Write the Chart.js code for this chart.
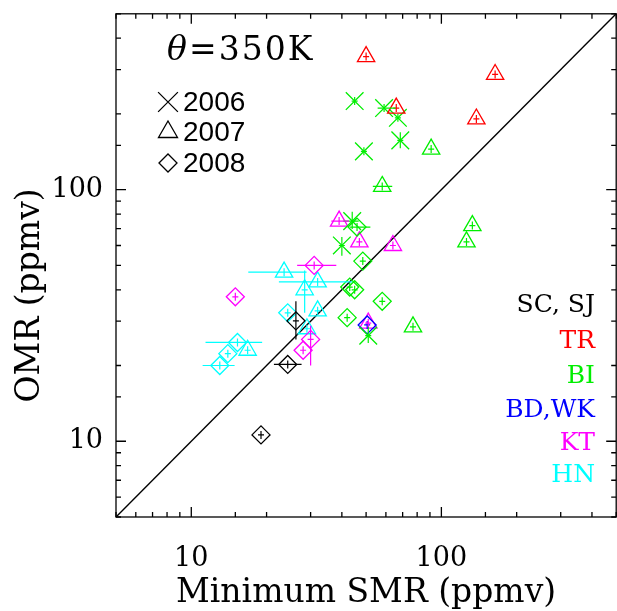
<!DOCTYPE html>
<html>
<head>
<meta charset="utf-8">
<script src="https://cdn.jsdelivr.net/npm/chart.js@4"></script>
<style>
  html, body { margin: 0; padding: 0; background: #fff; overflow: hidden; }
  canvas { display: block; }
</style>
</head>
<body>
<canvas id="chart" width="630" height="611"></canvas>
<script>
// each row: [year, minimum SMR, OMR, xLow, xHigh, yLow, yHigh] (null = bar hidden inside marker)
const sites = ['SC, SJ', 'TR', 'BI', 'BD,WK', 'KT', 'HN'];
const siteColors = ['#000000', '#ff0000', '#00ee00', '#0000ff', '#ff00ff', '#00ffff'];
const years = [2006, 2007, 2008];
const yearStyles = ['crossRot', 'triangle', 'rectRot'];
const yearRadius = [12.5, 10, 9];

const scsj = [
  [2008, 26.2, 30.1, null, null, 25.4, 36.0],
  [2008, 24.3, 20.2, 21.4, 27.6, null, null],
  [2008, 19.0, 10.6, null, null, null, null]
];
const tr = [
  [2007, 50, 338, null, null, null, null],
  [2007, 164, 287, null, null, null, null],
  [2007, 66, 211, null, null, null, null],
  [2007, 138, 191, null, null, null, null]
];
const bi = [
  [2006, 45, 225, null, null, null, null],
  [2006, 59, 211, 55.6, 65.7, null, null],
  [2006, 67, 193, null, null, null, null],
  [2006, 68.5, 157, null, null, 146, 169],
  [2006, 49, 142, null, null, null, null],
  [2006, 44, 75, 40.5, 46.7, 69.8, 81.7],
  [2006, 40, 60, null, null, 54.6, 64.8],
  [2006, 51, 26.3, null, null, 24.6, 28.7],
  [2007, 91, 145, null, null, null, null],
  [2007, 58, 103, 53.2, 63.6, null, null],
  [2007, 133, 72, null, null, null, null],
  [2007, 126, 62, null, null, null, null],
  [2007, 77, 28.5, null, null, null, null],
  [2008, 48.5, 52, null, null, null, null],
  [2008, 43, 41, null, null, null, null],
  [2008, 45, 40, null, null, null, null],
  [2008, 58, 36, null, null, null, null],
  [2008, 42, 31, null, null, null, null],
  [2008, 46, 71, 43, 52, null, null]
];
const bdwk = [
  [2008, 50.5, 29, null, null, null, null]
];
const kt = [
  [2007, 64, 60, null, null, null, null],
  [2007, 47, 62, null, null, null, null],
  [2007, 39, 75, 36.3, 42.7, null, null],
  [2007, 51, 29.5, null, null, null, null],
  [2008, 15, 37.5, null, null, null, null],
  [2008, 31, 50, 26.5, 38, null, null],
  [2008, 30, 25.4, null, null, 20, 28.8],
  [2008, 28, 23, null, null, null, null]
];
const hn = [
  [2007, 23.5, 47, 16.9, 28.9, null, null],
  [2007, 28.4, 40, null, null, 32.4, 47.7],
  [2007, 32, 43, 22.4, 44, null, null],
  [2007, 32, 33, null, null, null, null],
  [2007, 29, 28, null, null, null, null],
  [2007, 16.8, 23, null, null, null, null],
  [2008, 24.3, 32.4, null, null, null, null],
  [2008, 15.3, 24.7, 11.4, 19.2, null, null],
  [2008, 14, 22.3, null, null, null, null],
  [2008, 13, 20, 11.1, 14.9, null, null]
];
const siteRows = [scsj, tr, bi, bdwk, kt, hn];

const axisMin = 5;
const axisMax = 500;
const majorTicks = [10, 100];
const oneToOne = [5, 500];

const datasets = [{
  type: 'line',
  data: oneToOne.map(v => ({ x: v, y: v })),
  borderColor: '#000',
  borderWidth: 1.4,
  pointRadius: 0,
  order: 10
}];

siteRows.forEach((rows, s) => {
  years.forEach((yr, k) => {
    const pts = rows.filter(r => r[0] === yr).map(r => ({
      x: r[1], y: r[2], xlo: r[3], xhi: r[4], ylo: r[5], yhi: r[6]
    }));
    if (!pts.length) return;
    datasets.push({
      type: 'scatter',
      label: sites[s] + ' ' + yr,
      data: pts,
      pointStyle: yearStyles[k],
      pointRadius: yearRadius[k],
      pointHoverRadius: yearRadius[k],
      borderColor: siteColors[s],
      backgroundColor: 'rgba(0,0,0,0)',
      pointBorderWidth: 1.3,
      bars: true
    });
  });
});

const errorBars = {
  id: 'errorBars',
  afterDatasetsDraw(chart) {
    const { ctx, scales: { x, y } } = chart;
    ctx.save();
    ctx.lineWidth = 1.2;
    chart.data.datasets.forEach(ds => {
      if (!ds.bars) return;
      ctx.strokeStyle = ds.borderColor;
      ds.data.forEach(p => {
        const px = x.getPixelForValue(p.x);
        const py = y.getPixelForValue(p.y);
        const x0 = p.xlo ? x.getPixelForValue(p.xlo) : px - 3;
        const x1 = p.xhi ? x.getPixelForValue(p.xhi) : px + 3;
        const y0 = p.ylo ? y.getPixelForValue(p.ylo) : py + 4;
        const y1 = p.yhi ? y.getPixelForValue(p.yhi) : py - 4;
        ctx.beginPath();
        ctx.moveTo(x0, py); ctx.lineTo(x1, py);
        ctx.moveTo(px, y0); ctx.lineTo(px, y1);
        ctx.stroke();
      });
    });
    ctx.restore();
  }
};

const frame = {
  id: 'frame',
  afterDraw(chart) {
    const { ctx, chartArea: a, scales: { x, y } } = chart;
    ctx.save();
    ctx.strokeStyle = '#000';
    ctx.lineWidth = 1.3;
    ctx.strokeRect(a.left, a.top, a.right - a.left, a.bottom - a.top);
    ctx.beginPath();
    x.ticks.forEach(t => {
      const px = x.getPixelForValue(t.value);
      const len = majorTicks.includes(t.value) ? 10 : 5;
      ctx.moveTo(px, a.bottom); ctx.lineTo(px, a.bottom - len);
      ctx.moveTo(px, a.top); ctx.lineTo(px, a.top + len);
    });
    y.ticks.forEach(t => {
      const py = y.getPixelForValue(t.value);
      const len = majorTicks.includes(t.value) ? 10 : 5;
      ctx.moveTo(a.left, py); ctx.lineTo(a.left + len, py);
      ctx.moveTo(a.right, py); ctx.lineTo(a.right - len, py);
    });
    ctx.stroke();

    // theta label
    ctx.fillStyle = '#000';
    ctx.textBaseline = 'middle';
    ctx.textAlign = 'left';
    ctx.letterSpacing = '2px';
    ctx.font = 'italic 33px "DejaVu Serif"';
    ctx.fillText('\u03B8', a.left + 51, 51);
    ctx.font = '33px "DejaVu Serif"';
    ctx.fillText('=350K', a.left + 73, 51);
    ctx.letterSpacing = '0px';

    // year key
    ctx.font = '28px "Liberation Sans"';
    ctx.strokeStyle = '#000';
    ctx.lineWidth = 1.3;
    const keyR = [14, 11, 9];
    const keyY = [102, 132, 163];
    years.forEach((yr, k) => {
      ctx.fillStyle = 'rgba(0,0,0,0)';
      Chart.helpers.drawPoint(ctx, {
        pointStyle: yearStyles[k], radius: keyR[k], rotation: 0, borderWidth: 1.3
      }, a.left + 52, keyY[k]);
      ctx.fillStyle = '#000';
      ctx.fillText(String(yr), a.left + 67, keyY[k] + 1);
    });

    // site key
    ctx.font = '25px "DejaVu Serif"';
    ctx.textAlign = 'right';
    const siteY = [305, 341, 376, 410, 443, 475];
    sites.forEach((s, i) => {
      ctx.fillStyle = siteColors[i];
      ctx.fillText(s, 595, siteY[i]);
    });

    // axis titles
    ctx.fillStyle = '#000';
    ctx.textAlign = 'center';
    ctx.font = '33px "DejaVu Serif"';
    ctx.fillText('Minimum SMR (ppmv)', (a.left + a.right) / 2, 593);
    ctx.save();
    ctx.translate(30, (a.top + a.bottom) / 2 + 30);
    ctx.rotate(-Math.PI / 2);
    ctx.fillText('OMR (ppmv)', 0, 0);
    ctx.restore();
    ctx.restore();
  }
};

const tickLabel = v => (majorTicks.includes(v) ? String(v) : '');

new Chart(document.getElementById('chart'), {
  data: { datasets },
  options: {
    responsive: false,
    animation: false,
    layout: { padding: { top: 8, right: 7, left: 0, bottom: 0 } },
    plugins: { legend: { display: false }, tooltip: { enabled: false } },
    scales: {
      x: {
        type: 'logarithmic',
        min: axisMin,
        max: axisMax,
        grid: { display: false, drawTicks: false },
        border: { display: false },
        ticks: {
          autoSkip: false, maxRotation: 0, padding: 26,
          color: '#000', font: { family: 'DejaVu Serif', size: 27 },
          callback: tickLabel
        },
        afterFit(scale) {
          scale.height = 94;
          scale.paddingLeft = 0;
          scale.paddingRight = 0;
        }
      },
      y: {
        type: 'logarithmic',
        min: axisMin,
        max: axisMax,
        grid: { display: false, drawTicks: false },
        border: { display: false },
        ticks: {
          autoSkip: false, padding: 13,
          color: '#000', font: { family: 'DejaVu Serif', size: 27 },
          callback: tickLabel
        },
        afterFit(scale) {
          scale.width = 116;
          scale.paddingTop = 0;
          scale.paddingBottom = 0;
        }
      }
    }
  },
  plugins: [errorBars, frame]
});
</script>
</body>
</html>
